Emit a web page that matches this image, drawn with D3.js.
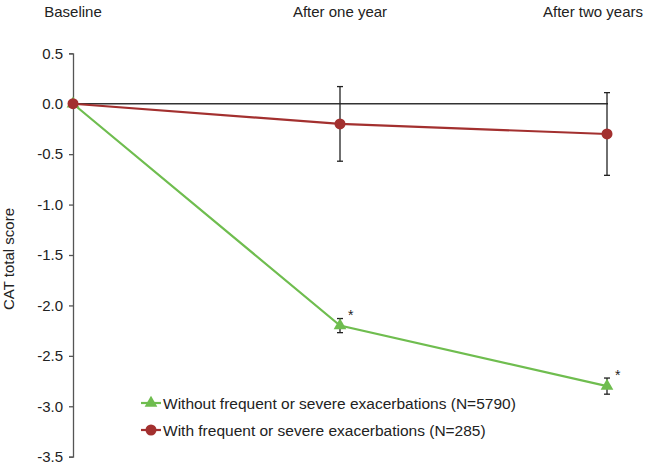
<!DOCTYPE html>
<html><head><meta charset="utf-8">
<script src="https://cdn.jsdelivr.net/npm/d3@7"></script>
<style>
html,body{margin:0;padding:0;background:#fff;}
svg{display:block;font-family:"Liberation Sans",Arial,Helvetica,sans-serif;}
</style></head>
<body>
<svg id="chart" width="646" height="464"></svg>
<script>
const categories = ["Baseline", "After one year", "After two years"];
const withoutValues = [0, -2.2, -2.8];
const withoutErrors = [0, 0.07, 0.08];
const withValues = [0, -0.2, -0.3];
const withErrors = [0, 0.37, 0.41];
const yTicks = [0.5, 0.0, -0.5, -1.0, -1.5, -2.0, -2.5, -3.0, -3.5];
const seriesNames = ["Without frequent or severe exacerbations (N=5790)", "With frequent or severe exacerbations (N=285)"];
const significant = [false, true, true];

const green = "#6fbd4f", red = "#a3302f";
const svg = d3.select("#chart");
const x = d3.scalePoint().domain(categories).range([73, 607]);
const y = d3.scaleLinear().domain([-3.5, 0.5]).range([456.7, 53.3]);

// y axis
const yAxis = d3.axisLeft(y).tickValues(yTicks).tickSize(4).tickPadding(6)
  .tickFormat(d => d3.format(".1f")(d).replace("−", "-"));
const ga = svg.append("g").attr("transform", "translate(73,0)").call(yAxis);
ga.select(".domain").attr("stroke", "#555").attr("stroke-width", 1.3);
ga.selectAll(".tick line").attr("stroke", "#555").attr("stroke-width", 1.3);
ga.selectAll(".tick text").attr("font-size", 15).attr("fill", "#222")
  .attr("font-family", '"Liberation Sans",Arial,sans-serif');

// y axis title
svg.append("text").attr("transform", `translate(14,${(53.3+456.7)/2 + 4}) rotate(-90)`)
  .attr("text-anchor", "middle").attr("font-size", 15).attr("fill", "#222").text("CAT total score");

// top category labels
svg.selectAll("text.cat").data(categories).join("text").attr("class", "cat")
  .attr("x", (d, i) => i === categories.length - 1 ? 643 : x(d))
  .attr("y", 16.5)
  .attr("text-anchor", (d, i) => i === categories.length - 1 ? "end" : "middle")
  .attr("font-size", 15).attr("fill", "#222").text(d => d);

// zero line
svg.append("line").attr("x1", x(categories[0])).attr("x2", x(categories[2]) + 1)
  .attr("y1", y(0)).attr("y2", y(0)).attr("stroke", "#333").attr("stroke-width", 1.3);

const line = d3.line().x((d, i) => x(categories[i])).y(d => y(d));
const tri = d3.symbol().type(d3.symbolTriangle).size(70);
const circ = d3.symbol().type(d3.symbolCircle).size(95);

function errBars(vals, errs) {
  const g = svg.append("g").attr("stroke", "#222").attr("stroke-width", 1.3);
  vals.forEach((v, i) => {
    if (!errs[i]) return;
    const cx = x(categories[i]);
    g.append("line").attr("x1", cx).attr("x2", cx).attr("y1", y(v + errs[i])).attr("y2", y(v - errs[i]));
    [v + errs[i], v - errs[i]].forEach(e => g.append("line").attr("x1", cx - 3).attr("x2", cx + 3).attr("y1", y(e)).attr("y2", y(e)));
  });
}

// green series
svg.append("path").datum(withoutValues).attr("d", line).attr("fill", "none").attr("stroke", green).attr("stroke-width", 2.2);
errBars(withoutValues, withoutErrors);
svg.selectAll("path.gm").data(withoutValues).join("path").attr("class", "gm")
  .attr("transform", (d, i) => `translate(${x(categories[i])},${y(d)})`).attr("d", tri).attr("fill", green);

// red series
svg.append("path").datum(withValues).attr("d", line).attr("fill", "none").attr("stroke", red).attr("stroke-width", 2.2);
errBars(withValues, withErrors);
svg.selectAll("path.rm").data(withValues).join("path").attr("class", "rm")
  .attr("transform", (d, i) => `translate(${x(categories[i])},${y(d)})`).attr("d", circ).attr("fill", red);

// significance stars
const starData = withoutValues.map((v, i) => ({ v, c: categories[i], s: significant[i] })).filter(d => d.s);
svg.selectAll("text.star").data(starData).join("text").attr("class", "star")
  .attr("x", d => x(d.c) + 8).attr("y", d => y(d.v) - 6)
  .attr("font-size", 14).attr("fill", "#222").text("*");

// legend
const legend = [[seriesNames[0], green, tri], [seriesNames[1], red, circ]];
legend.forEach(([name, col, sym], i) => {
  const ly = 403 + i * 27;
  svg.append("line").attr("x1", 141).attr("x2", 161).attr("y1", ly).attr("y2", ly).attr("stroke", col).attr("stroke-width", 2.2);
  svg.append("path").attr("transform", `translate(151,${ly})`).attr("d", sym).attr("fill", col);
  svg.append("text").attr("x", 163).attr("y", ly + 5.5).attr("font-size", 15.5).attr("fill", "#222").text(name);
});
</script>
</body></html>
